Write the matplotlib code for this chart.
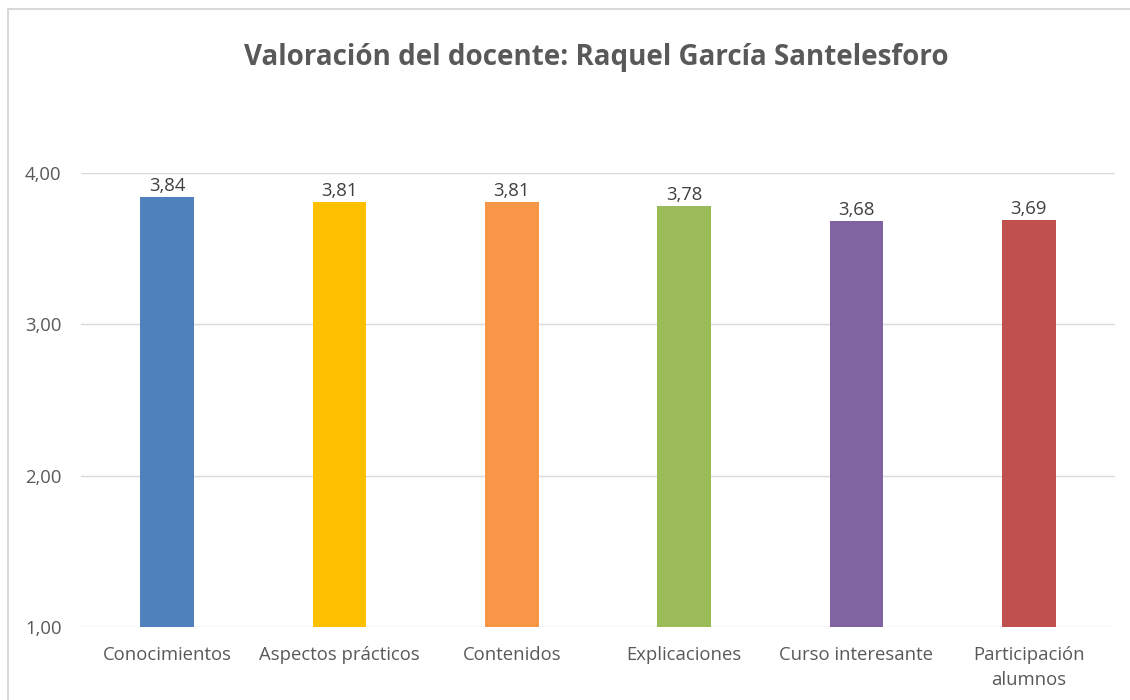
import matplotlib
matplotlib.use("Agg")
import matplotlib.pyplot as plt
from matplotlib.patches import Rectangle

categories = ["Conocimientos", "Aspectos prácticos", "Contenidos", "Explicaciones",
              "Curso interesante", "Participación\nalumnos"]
values = [3.84, 3.81, 3.81, 3.78, 3.68, 3.69]
colors = ["#4F81BD", "#FFC000", "#F79646", "#9BBB59", "#8064A2", "#C0504D"]
yticks = [1.0, 2.0, 3.0, 4.0]
title = "Valoración del docente: Raquel García Santelesforo"

plt.rcParams['font.family'] = ['Open Sans', 'DejaVu Sans']
txt = "#595959"

fig = plt.figure(figsize=(11.3, 7), dpi=100)
ax = fig.add_axes([0.0717, 0.1043, 0.9150, 0.6486])

x = list(range(len(categories)))
ax.bar(x, values, width=0.31, color=colors, zorder=3, bottom=0)
ax.set_ylim(1, 4)
ax.set_xlim(-0.5, len(categories) - 0.5)
ax.set_yticks(yticks)
ax.set_yticklabels([f"{v:.2f}".replace(".", ",") for v in yticks])
ax.set_xticks(x)
ax.set_xticklabels(categories, linespacing=1.45)
ax.tick_params(axis='both', length=0, labelsize=13.3, colors=txt)
ax.tick_params(axis='y', pad=14)
ax.tick_params(axis='x', pad=14)
ax.grid(axis='y', color="#D9D9D9", linewidth=1.0, zorder=0)
for s in ax.spines.values():
    s.set_visible(False)

for xi, v in zip(x, values):
    ax.annotate(f"{v:.2f}".replace(".", ","), (xi, v), xytext=(0, 1.5),
                textcoords='offset points', ha='center', va='bottom',
                fontsize=13.3, color="#404040", zorder=4)

fig.text(0.528, 0.918, title, ha='center', va='center', fontsize=20,
         fontweight='bold', color=txt)

fig.patches.append(Rectangle((8/1130, -0.1), 1.2, (700-9)/700 + 0.1,
                             transform=fig.transFigure, fill=False,
                             edgecolor="#D9D9D9", linewidth=1.5))

fig.savefig("out.png", dpi=100, facecolor="white")
